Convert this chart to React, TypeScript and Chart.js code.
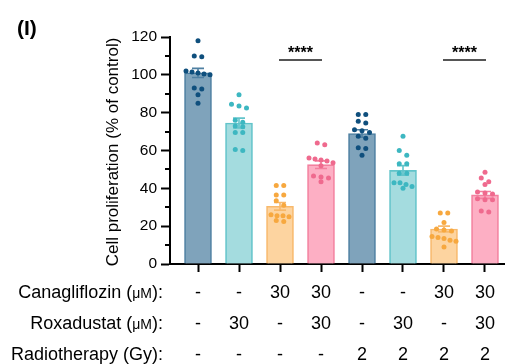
import React, { useEffect, useRef } from 'react';
import { Chart, registerables } from 'chart.js';

Chart.register(...registerables);

const FONT = "'Liberation Sans', Arial, Helvetica, sans-serif";

const groups = ['Control', 'Roxa', 'Cana', 'Cana+Roxa', 'RT', 'RT+Roxa', 'RT+Cana', 'RT+Cana+Roxa'];
const canagliflozin = ['-', '-', '30', '30', '-', '-', '30', '30'];
const roxadustat = ['-', '30', '-', '30', '-', '30', '-', '30'];
const radiotherapy = ['-', '-', '-', '-', '2', '2', '2', '2'];

const means = [101, 74.5, 30.5, 52.5, 69, 49.5, 18.5, 36.5];
const sems = [2.4, 2.6, 2.0, 2.0, 2.0, 2.5, 1.5, 1.8];

const g1 = [118, 110, 109.5, 102, 101.5, 101, 100.5, 100, 93, 92.5, 89.5, 85];
const g2 = [89.5, 84.5, 83.5, 82.5, 76, 75, 73, 72.5, 69.5, 69.5, 60.5, 60];
const g3 = [41.5, 41.5, 36.5, 36.5, 33.5, 31, 26, 25.5, 25.5, 25, 23, 22.5];
const g4 = [64, 63, 56, 55.5, 55, 54.5, 53.5, 52, 46.5, 46, 45.5, 43.5];
const g5 = [79, 79, 75.5, 74.5, 71, 70.5, 69.5, 67.5, 66.5, 61.5, 61, 57.5];
const g6 = [67.5, 60, 57.5, 53, 53, 48, 48, 43, 43, 42, 41, 40];
const g7 = [27, 27, 22, 18.5, 18, 17.5, 14.5, 14, 13.5, 12.5, 12, 9];
const g8 = [48.5, 45.5, 43.5, 42, 38, 37.5, 37, 34.5, 34, 34, 28, 27.5];
const points = [g1, g2, g3, g4, g5, g6, g7, g8];

const yTicks = [0, 20, 40, 60, 80, 100, 120];
const yMinorTicks = [10, 30, 50, 70, 90, 110];
const significance = [
  { from: 3, to: 4, label: '****' },
  { from: 7, to: 8, label: '****' },
];

const fills = ['#7fa3bb', '#a4dcdf', '#fdd4a0', '#fdafc4', '#7fa3bb', '#a4dcdf', '#fdd4a0', '#fdafc4'];
const borders = ['#4f80a2', '#62c4ca', '#f8b96c', '#f3809f', '#4f80a2', '#62c4ca', '#f8b96c', '#f3809f'];
const dotColors = ['#0f4f7d', '#3db7c1', '#f7a83f', '#ef6a8e', '#0f4f7d', '#3db7c1', '#f7a83f', '#ef6a8e'];

function swarm(values: number[], yScale: any, cx: number) {
  const sorted = [...values].sort((a, b) => b - a);
  const rows: { y0: number; items: number[] }[] = [];
  for (const v of sorted) {
    const py = yScale.getPixelForValue(v);
    const last = rows[rows.length - 1];
    if (last && Math.abs(py - last.y0) < 5.5) last.items.push(py);
    else rows.push({ y0: py, items: [py] });
  }
  const out: [number, number][] = [];
  rows.forEach((r) => {
    const n = r.items.length;
    const sp = n > 3 ? 6 : 7.5;
    r.items.forEach((py, k) => out.push([cx + (k - (n - 1) / 2) * sp, py]));
  });
  return out;
}

function drawParts(ctx: CanvasRenderingContext2D, parts: [string, number][], rightX: number, baseline: number) {
  const widths = parts.map(([t, s]) => {
    ctx.font = `${s}px ${FONT}`;
    return ctx.measureText(t).width;
  });
  const total = widths.reduce((a, b) => a + b, 0);
  let x = rightX - total;
  ctx.textAlign = 'left';
  ctx.textBaseline = 'alphabetic';
  parts.forEach(([t, s], i) => {
    ctx.font = `${s}px ${FONT}`;
    ctx.fillText(t, x, baseline);
    x += widths[i];
  });
}

const overlay = {
  id: 'overlay',
  afterDatasetsDraw(chart: any) {
    const { ctx, scales } = chart;
    const x = scales.x;
    const y = scales.y;
    ctx.save();
    means.forEach((m, i) => {
      const cx = x.getPixelForValue(i + 1);
      const top = y.getPixelForValue(m + sems[i]);
      const bot = y.getPixelForValue(m - sems[i]);
      ctx.strokeStyle = borders[i];
      ctx.lineWidth = 1.6;
      ctx.beginPath();
      ctx.moveTo(cx, top);
      ctx.lineTo(cx, bot);
      ctx.moveTo(cx - 6, top);
      ctx.lineTo(cx + 6, top);
      ctx.moveTo(cx - 6, bot);
      ctx.lineTo(cx + 6, bot);
      ctx.stroke();
    });
    points.forEach((vals, i) => {
      const cx = x.getPixelForValue(i + 1);
      ctx.fillStyle = dotColors[i];
      swarm(vals, y, cx).forEach(([px, py]) => {
        ctx.beginPath();
        ctx.arc(px, py, 2.5, 0, Math.PI * 2);
        ctx.fill();
      });
    });
    ctx.restore();
  },
  afterDraw(chart: any) {
    const { ctx, scales, chartArea } = chart;
    const x = scales.x;
    const y = scales.y;
    ctx.save();
    ctx.strokeStyle = '#000';
    ctx.lineWidth = 2;
    yMinorTicks.forEach((v) => {
      const py = Math.round(y.getPixelForValue(v));
      ctx.beginPath();
      ctx.moveTo(chartArea.left - 5, py);
      ctx.lineTo(chartArea.left, py);
      ctx.stroke();
    });
    ctx.fillStyle = '#000';
    ctx.font = `bold 21px ${FONT}`;
    ctx.textAlign = 'left';
    ctx.textBaseline = 'alphabetic';
    ctx.fillText('(I)', 17, 35);
    ctx.save();
    ctx.translate(113, 152);
    ctx.rotate(-Math.PI / 2);
    ctx.font = `17px ${FONT}`;
    ctx.textAlign = 'center';
    ctx.textBaseline = 'middle';
    ctx.fillText('Cell proliferation (% of control)', 0, 0);
    ctx.restore();
    significance.forEach((s) => {
      const x1 = x.getPixelForValue(s.from);
      const x2 = x.getPixelForValue(s.to);
      ctx.strokeStyle = '#555';
      ctx.lineWidth = 2;
      ctx.beginPath();
      ctx.moveTo(x1 - 1, 60);
      ctx.lineTo(x2 + 1, 60);
      ctx.stroke();
      ctx.fillStyle = '#000';
      ctx.font = `bold 16px ${FONT}`;
      ctx.textAlign = 'center';
      ctx.textBaseline = 'alphabetic';
      ctx.fillText(s.label, (x1 + x2) / 2, 58);
    });
    const rows: { parts: [string, number][]; vals: string[]; base: number }[] = [
      { parts: [['Canagliflozin (', 18], ['\u03bcM', 14], ['):', 18]], vals: canagliflozin, base: 298 },
      { parts: [['Roxadustat (', 18], ['\u03bcM', 14], ['):', 18]], vals: roxadustat, base: 329 },
      { parts: [['Radiotherapy (Gy):', 18]], vals: radiotherapy, base: 360 },
    ];
    ctx.fillStyle = '#000';
    rows.forEach((r) => {
      drawParts(ctx, r.parts, 163, r.base);
      ctx.font = `18px ${FONT}`;
      ctx.textAlign = 'center';
      r.vals.forEach((v, i) => {
        ctx.fillText(v, x.getPixelForValue(i + 1), r.base);
      });
    });
    ctx.restore();
  },
};

export default function App() {
  const ref = useRef<HTMLCanvasElement>(null);
  useEffect(() => {
    if (!ref.current) return;
    const chart = new Chart(ref.current, {
      type: 'bar',
      data: {
        datasets: [
          {
            label: 'Cell proliferation',
            data: means.map((m, i) => ({ x: i + 1, y: m })),
            backgroundColor: fills,
            borderColor: borders,
            borderWidth: 1.6,
            barThickness: 27,
          },
        ],
      },
      options: {
        responsive: false,
        animation: false,
        layout: { padding: { top: 37, right: 0, left: 0, bottom: 0 } },
        plugins: { legend: { display: false }, tooltip: { enabled: false } },
        scales: {
          x: {
            type: 'linear',
            offset: false,
            min: 1 - 28 / 41,
            max: 1 + 307 / 41,
            afterBuildTicks: (scale: any) => {
              scale.ticks = groups.map((_, i) => ({ value: i + 1 }));
            },
            afterFit: (scale: any) => {
              scale.height = 100;
            },
            ticks: { display: false },
            grid: { offset: false, drawOnChartArea: false, drawTicks: true, tickLength: 8, tickWidth: 2, color: '#000' },
            border: { display: true, width: 2, color: '#000' },
          },
          y: {
            min: 0,
            max: 120,
            afterBuildTicks: (scale: any) => {
              scale.ticks = yTicks.map((v) => ({ value: v }));
            },
            afterFit: (scale: any) => {
              scale.width = 170;
            },
            ticks: { color: '#000', font: { family: FONT, size: 15.5 }, padding: 4 },
            grid: { drawOnChartArea: false, drawTicks: true, tickLength: 9, tickWidth: 2, color: '#000' },
            border: { display: true, width: 2, color: '#000' },
          },
        },
      },
      plugins: [overlay],
    } as any);
    return () => chart.destroy();
  }, []);
  return (
    <div style={{ position: 'absolute', left: 0, top: 0, width: 505, height: 364 }}>
      <canvas ref={ref} width={505} height={364} />
    </div>
  );
}
